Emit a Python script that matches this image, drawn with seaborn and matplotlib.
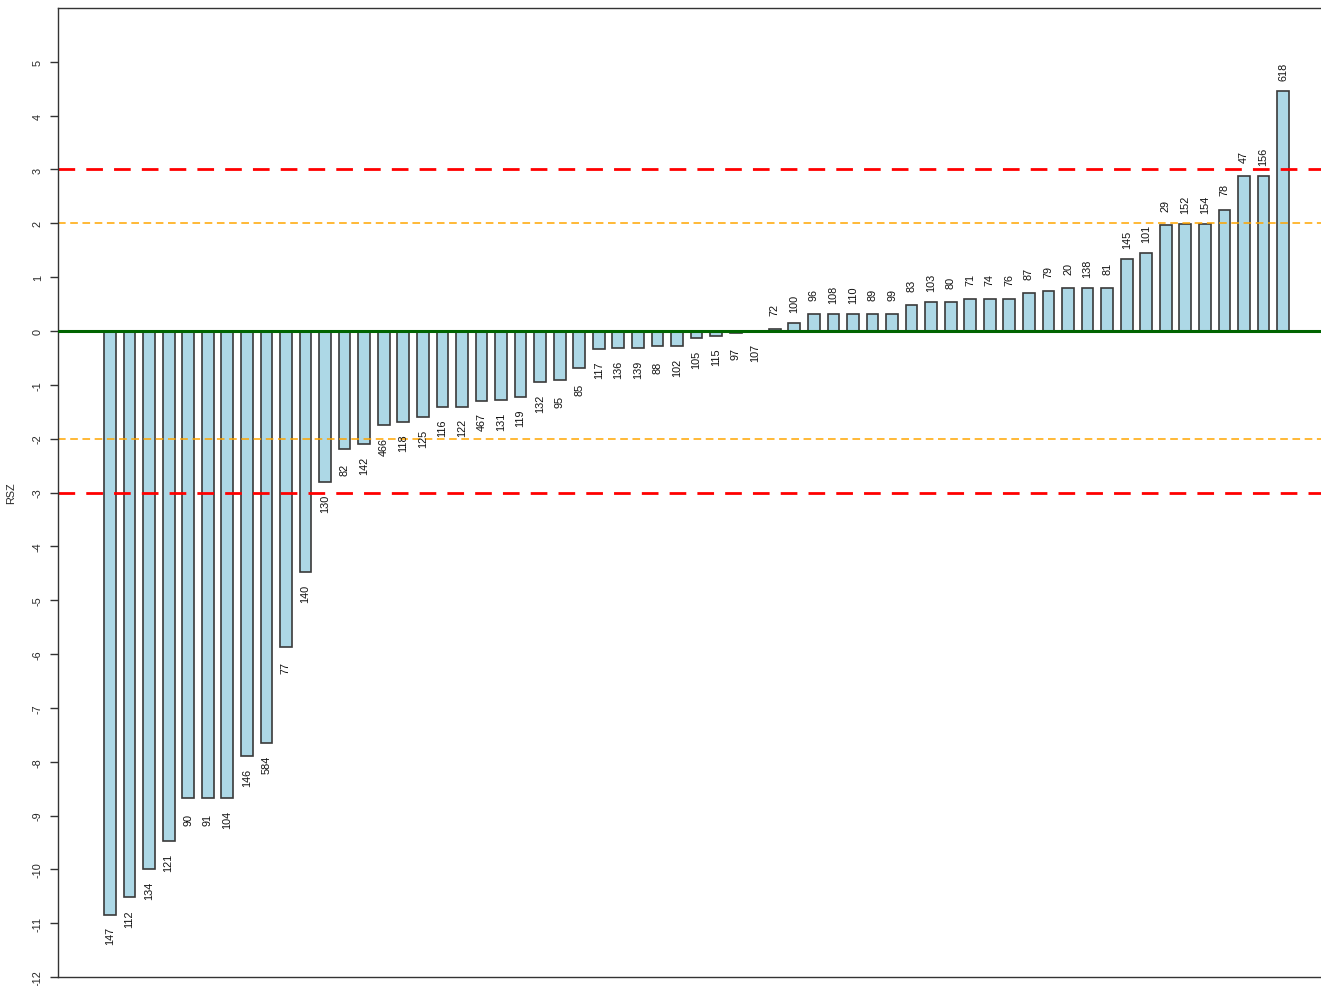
import numpy as np
import pandas as pd
import matplotlib
matplotlib.use("Agg")
import matplotlib.pyplot as plt
import seaborn as sns

# Sample identifiers, in plotted order (sorted by RSZ)
labels = ["147", "112", "134", "121", "90", "91", "104", "146", "584", "77",
          "140", "130", "82", "142", "466", "118", "125", "116", "122", "467",
          "131", "119", "132", "95", "85", "117", "136", "139", "88", "102",
          "105", "115", "97", "107", "72", "100", "96", "108", "110", "89",
          "99", "83", "103", "80", "71", "74", "76", "87", "79", "20",
          "138", "81", "145", "101", "29", "152", "154", "78", "47", "156",
          "618"]

# RSZ score of each sample
rsz = [-10.84, -10.52, -10.00, -9.48, -8.68, -8.68, -8.68, -7.90, -7.66, -5.87,
       -4.48, -2.81, -2.19, -2.10, -1.75, -1.69, -1.60, -1.41, -1.41, -1.30,
       -1.28, -1.23, -0.95, -0.91, -0.69, -0.33, -0.32, -0.32, -0.28, -0.28,
       -0.13, -0.09, -0.03, -0.01, 0.03, 0.14, 0.31, 0.31, 0.31, 0.31,
       0.31, 0.48, 0.53, 0.53, 0.59, 0.59, 0.59, 0.70, 0.74, 0.79,
       0.79, 0.79, 1.33, 1.45, 1.96, 1.98, 1.98, 2.25, 2.87, 2.87,
       4.46]

y_ticks = list(range(-12, 6))
warn_level = 2
alarm_level = 3

df = pd.DataFrame({"sample": labels, "RSZ": rsz})

sns.set_style("white")
plt.rcParams["font.family"] = ["Liberation Sans", "DejaVu Sans"]
plt.rcParams["axes.unicode_minus"] = False

fig = plt.figure(figsize=(13.21, 9.87), dpi=100)
ax = fig.add_axes([0.0439, 0.0091, 0.9561, 0.9818])

sns.barplot(data=df, x="sample", y="RSZ", order=labels, width=0.6,
            color="#ADD8E6", saturation=1, edgecolor="#3a3a3a",
            linewidth=1.2, ax=ax)

# Reference lines
ax.axhline(0, color="#006400", lw=2.2, zorder=3)
for s in (1, -1):
    ax.axhline(s * warn_level, color="#FFA500", lw=1.1, ls=(0, (5, 3)), zorder=1)
    ax.axhline(s * alarm_level, color="#FF0000", lw=2.0, ls=(0, (6, 4)), zorder=1)

# Sample labels next to the bar ends
for i, (lab, v) in enumerate(zip(labels, rsz)):
    off = 0.38 if v >= 0 else -0.38
    ax.text(i, v + off, lab, rotation=90, ha="center", va="center",
            fontsize=7.8, color="#111111")

ax.set_xlim(-2.66, 61.94)
ax.set_ylim(-12, 6)
ax.set_xticks([])
ax.set_xlabel("")
ax.set_yticks(y_ticks)
ax.set_yticklabels([str(t) for t in y_ticks], rotation=90, va="center",
                   fontsize=7.8)
ax.tick_params(axis="y", length=6, width=1, color="#333333", pad=5, left=True)
ax.set_ylabel("RSZ", fontsize=7.8, labelpad=12)

for side in ("left", "top", "bottom"):
    ax.spines[side].set_color("#333333")
    ax.spines[side].set_linewidth(1.0)
ax.spines["right"].set_visible(False)

fig.savefig("out.png", dpi=100)
